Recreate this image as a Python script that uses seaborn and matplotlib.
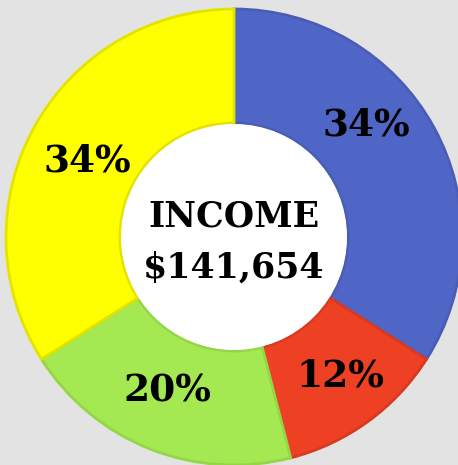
import matplotlib
matplotlib.use("Agg")
import matplotlib.pyplot as plt
import seaborn as sns

# Data
categories = ["Blue", "Red", "Green", "Yellow"]
shares = [34, 12, 20, 34]
center_title = "INCOME"
center_value = "$141,654"

fill_colors = ["#5066c6", "#ee4123", "#a4e852", "#ffff00"]
edge_colors = ["#4a5db6", "#d83a20", "#95d647", "#e3e300"]

sns.set_style("white")
plt.rcParams["font.family"] = ["DejaVu Serif"]

fig = plt.figure(figsize=(4.58, 4.65), dpi=100, facecolor="#e3e3e3")
ax = fig.add_axes([0, 0, 1, 1])
ax.set_facecolor("#e3e3e3")

palette = sns.color_palette(fill_colors)
wedges, texts, autotexts = ax.pie(
    shares, colors=palette, startangle=90, counterclock=False,
    radius=228, autopct="%d%%", pctdistance=0.75,
    wedgeprops=dict(width=114, linewidth=2),
    textprops=dict(fontsize=27, fontweight="heavy", color="black"),
)
for w, ec in zip(wedges, edge_colors):
    w.set_edgecolor(ec)

# label nudges like the original
nudges = [(-18, 30), (6, -1), (-4, 5), (3, -6)]
for t, (dx, dy) in zip(autotexts, nudges):
    x, y = t.get_position()
    t.set_position((x + dx, y + dy))

# white centre
ax.add_patch(plt.Circle((0, 0), 113, facecolor="white", edgecolor="none", zorder=3))

ax.text(0, 21, center_title, ha="center", va="center", zorder=4,
        fontsize=25, fontweight="heavy", color="black")
ax.text(0, -31, center_value, ha="center", va="center", zorder=4,
        fontsize=25, fontweight="heavy", color="black")

ax.set_aspect("auto")
ax.set_xlim(-234, 224)
ax.set_ylim(-228, 237)
ax.axis("off")

plt.savefig("out.png", dpi=100, facecolor=fig.get_facecolor())
plt.close()
